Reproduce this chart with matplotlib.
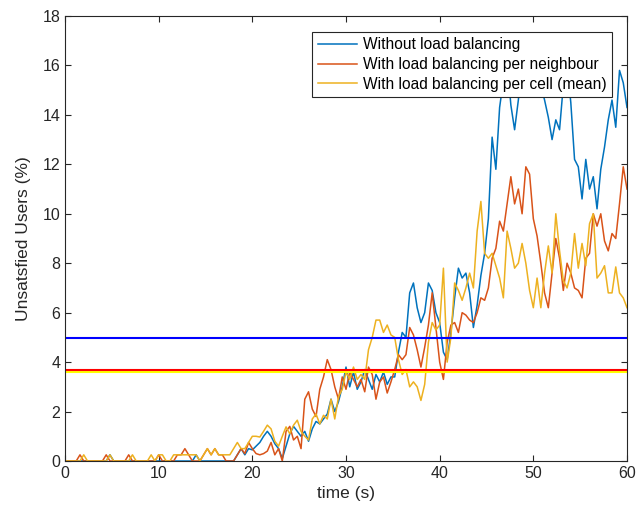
import numpy as np
import matplotlib
matplotlib.use("Agg")
import matplotlib.pyplot as plt

plt.rcParams['font.family'] = ['Liberation Sans', 'DejaVu Sans']

# sampling grid (s)
time_s = np.linspace(0, 60, 151)

# without load balancing
no_lb = [
    0, 0, 0, 0, 0, 0, 0, 0, 0, 0,
    0, 0, 0.25, 0, 0, 0, 0, 0, 0, 0,
    0, 0, 0, 0, 0, 0, 0, 0, 0, 0,
    0, 0, 0, 0, 0, 0.25, 0, 0, 0, 0,
    0, 0, 0, 0, 0, 0, 0.25, 0.5, 0.25, 0.5,
    0.45, 0.6, 0.75, 1.0, 1.2, 1.0, 0.7, 0.5, 0.1, 0.6,
    1.1, 1.4, 1.2, 1.0, 1.2, 0.8, 1.3, 1.6, 1.5, 1.7,
    1.9, 2.5, 2.0, 2.4, 3.0, 3.8, 3.0, 3.6, 2.9, 3.2,
    3.7, 3.3, 2.9, 3.5, 3.2, 3.6, 3.1, 3.4, 3.4, 4.4,
    5.2, 5.0, 6.8, 7.2, 6.2, 5.6, 6.0, 7.2, 6.9, 6.0,
    5.6, 4.4, 4.1, 5.2, 6.6, 7.8, 7.4, 7.6, 6.8, 5.4,
    6.3, 7.5, 8.4, 9.8, 13.1, 11.8, 14.3, 15.4, 16.2, 14.4,
    13.4, 14.6, 16.0, 16.5, 15.5, 16.3, 15.8, 15.2, 14.6, 13.9,
    13.0, 13.8, 13.4, 15.2, 16.0, 14.5, 12.2, 11.9, 10.6, 12.2,
    11.0, 11.5, 10.2, 11.8, 12.7, 13.8, 14.6, 13.5, 15.8, 15.3,
    14.3,
]

# with load balancing per neighbour
lb_neigh = [
    0, 0, 0, 0, 0.25, 0, 0, 0, 0, 0,
    0, 0.25, 0, 0, 0, 0, 0, 0.25, 0, 0,
    0, 0, 0, 0, 0, 0.25, 0, 0, 0, 0,
    0.25, 0.25, 0.5, 0.25, 0, 0, 0, 0.25, 0.5, 0.25,
    0.5, 0.25, 0.25, 0, 0, 0, 0.25, 0.5, 0.3, 0.75,
    0.5, 0.3, 0.25, 0.3, 0.4, 0.75, 0.25, 0.5, 0.0, 1.2,
    1.4, 0.85, 1.0, 0.5, 2.5, 2.8, 2.1, 1.8, 2.9, 3.4,
    4.1, 3.7, 3.0, 2.5, 3.4, 2.9, 3.6, 3.3, 3.0, 3.3,
    2.8, 3.8, 3.5, 2.5, 3.2, 3.4, 2.75, 3.2, 3.7, 4.3,
    4.1, 4.3, 5.4, 5.1, 4.5, 3.8, 4.6, 5.5, 6.8, 5.4,
    4.0, 3.3, 4.8, 5.5, 5.6, 5.2, 6.0, 5.9, 5.7, 5.6,
    6.0, 6.6, 6.5, 7.0, 8.2, 8.6, 9.7, 9.3, 10.4, 11.5,
    10.4, 11.0, 10.0, 11.9, 11.6, 9.8, 9.1, 8.0, 6.8, 6.2,
    7.6, 9.0, 8.2, 6.9, 8.0, 7.6, 7.0, 6.9, 6.6, 8.2,
    8.4, 10.0, 9.5, 10.0, 8.9, 8.5, 9.2, 9.0, 10.4, 11.9,
    11.0,
]

# with load balancing per cell (mean)
lb_cell = [
    0, 0, 0, 0, 0, 0.25, 0, 0, 0, 0,
    0, 0, 0.25, 0, 0, 0, 0, 0, 0.25, 0,
    0, 0, 0, 0.25, 0, 0.25, 0.25, 0, 0, 0.25,
    0.25, 0.25, 0.25, 0.25, 0.25, 0.25, 0, 0.25, 0.5, 0.25,
    0.5, 0.25, 0.25, 0.25, 0.25, 0.5, 0.75, 0.5, 0.5, 0.75,
    1.0, 1.0, 0.97, 1.2, 1.45, 1.3, 0.8, 0.6, 1.0, 1.38,
    1.1, 1.45, 1.65, 1.2, 1.0, 0.85, 1.7, 1.9, 1.5, 1.85,
    1.7, 2.5, 1.7, 2.6, 2.9, 3.6, 3.3, 3.8, 3.3, 3.5,
    3.3, 4.5, 5.0, 5.7, 5.7, 5.2, 5.5, 5.1, 5.0, 4.1,
    3.5, 3.7, 3.0, 3.2, 3.0, 2.45, 3.1, 4.8, 5.6, 5.3,
    5.5, 7.8, 4.0, 5.0, 7.2, 6.9, 6.5, 7.0, 7.6, 7.0,
    9.3, 10.5, 8.4, 8.2, 8.4, 7.9, 7.4, 6.6, 9.3, 8.6,
    7.8, 8.0, 8.8, 8.0, 6.9, 6.2, 7.4, 6.2, 7.6, 8.7,
    7.6, 10.0, 8.5, 7.3, 7.0, 7.6, 9.2, 7.8, 8.8, 7.9,
    9.6, 10.0, 7.4, 7.6, 7.9, 6.8, 6.8, 7.85, 6.8, 6.6,
    6.2,
]

# mean levels (horizontal lines)
mean_no_lb = 4.96
mean_lb_neigh = 3.67
mean_lb_cell = 3.59

labels = ["Without load balancing",
          "With load balancing per neighbour",
          "With load balancing per cell (mean)"]

fig = plt.figure(figsize=(6.38, 5.16), dpi=100)
ax = fig.add_axes([65 / 638, 1 - 461 / 516, 562 / 638, 445 / 516])

ax.plot(time_s, no_lb, color='#0072BD', lw=1.1, label=labels[0])
ax.plot(time_s, lb_neigh, color='#D95319', lw=1.1, label=labels[1])
ax.plot(time_s, lb_cell, color='#EDB120', lw=1.1, label=labels[2])

ax.axhline(mean_no_lb, color=(0, 0, 1), lw=1.5)
ax.axhline(mean_lb_cell, color=(1, 1, 0), lw=1.5)
ax.axhline(mean_lb_neigh, color=(1, 0, 0), lw=1.5)

ax.set_xlim(0, 60)
ax.set_ylim(0, 18)
ax.set_xticks(range(0, 61, 10))
ax.set_yticks(range(0, 19, 2))

dark = '#262626'
for s in ax.spines.values():
    s.set_color(dark)
    s.set_linewidth(0.8)
ax.tick_params(direction='in', top=True, right=True, length=4, width=0.8,
               colors=dark, labelsize=11.5, labelcolor=dark)

ax.set_xlabel("time (s)", fontsize=12.5, color=dark)
ax.set_ylabel("Unsatsfied Users (%)", fontsize=12.5, color=dark, labelpad=8)

leg = ax.legend(loc='upper right', bbox_to_anchor=(547 / 562, 429 / 445),
                fontsize=11.2, fancybox=False, framealpha=1, edgecolor=dark,
                handlelength=2.5, borderpad=0.35, labelspacing=0.3,
                handletextpad=0.4, borderaxespad=0)
leg.get_frame().set_linewidth(0.8)

fig.savefig("out.png", dpi=100)
